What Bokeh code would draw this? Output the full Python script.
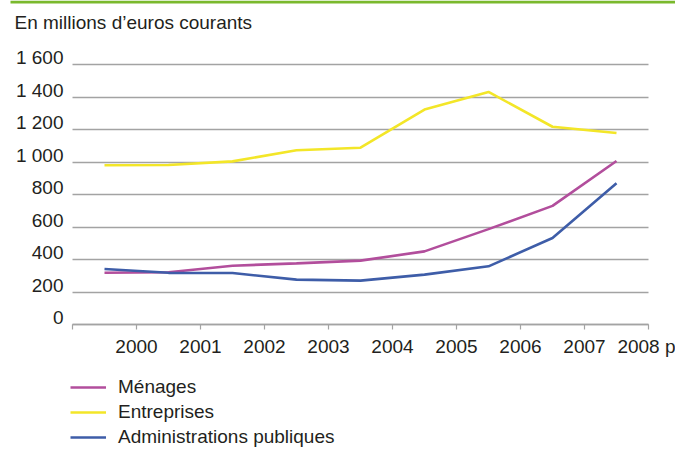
from bokeh.plotting import figure
from bokeh.models import Range1d, FixedTicker, Legend, LegendItem, Label, BoxAnnotation
from bokeh.embed import file_html
from bokeh.resources import INLINE

# ---- data ----
years = ["2000", "2001", "2002", "2003", "2004", "2005", "2006", "2007", "2008 p"]
menages = [318, 322, 362, 376, 393, 450, 587, 730, 1006]
entreprises = [980, 982, 1004, 1072, 1088, 1323, 1431, 1217, 1178]
administrations = [342, 318, 317, 276, 270, 307, 358, 532, 869]
series_names = ["Ménages", "Entreprises", "Administrations publiques"]
y_ticks = [0, 200, 400, 600, 800, 1000, 1200, 1400, 1600]
y_tick_labels = ["0", "200", "400", "600", "800", "1 000", "1 200", "1 400", "1 600"]
unit_title = "En millions d’euros courants"

FONT = "Liberation Sans"
TXT = "#231f20"
GRID = "#a3a3a3"

W, H = 675, 449
# plot area geometry (pixels inside the canvas)
FL, FR, FT, FB = 72, 648, 64, 324
n = len(years)
xppu = (FR - FL) / n            # px per x unit
yppu = (FB - FT) / 1600         # px per y unit

xs = [i + 0.5 for i in range(n)]
x_ticks = list(range(n + 1))

p = figure(width=W, height=H, output_backend="svg", toolbar_location=None,
           x_range=Range1d(-FL / xppu, (W - FL) / xppu),
           y_range=Range1d(-(H - FB) / yppu, FB / yppu),
           min_border_left=0, min_border_right=0, min_border_top=0, min_border_bottom=0)
p.outline_line_color = None
p.background_fill_color = "white"
p.border_fill_color = "white"

p.xgrid.visible = False
p.ygrid.ticker = FixedTicker(ticks=y_ticks)
p.ygrid.grid_line_color = GRID
p.ygrid.grid_line_width = 1.5
p.ygrid.cross_bounds = (0, n)

# x axis, at y = 0
p.xaxis.fixed_location = 0
p.xaxis.bounds = (0, n)
p.xaxis.ticker = FixedTicker(ticks=x_ticks)
p.xaxis.major_label_overrides = {0: ""} | {i + 1: y for i, y in enumerate(years)}
p.xaxis.axis_line_color = GRID
p.xaxis.axis_line_width = 1.5
p.xaxis.major_tick_line_color = GRID
p.xaxis.major_tick_line_width = 1.2
p.xaxis.major_tick_in = 0
p.xaxis.major_tick_out = 5
p.xaxis.minor_tick_line_color = None
p.xaxis.major_label_standoff = 6
p.xaxis.major_label_text_font = FONT
p.xaxis.major_label_text_font_size = "19px"
p.xaxis.major_label_text_color = TXT

# y axis, at x = 0; labels sit on their grid line
lab_shift = 7 / yppu
p.yaxis.fixed_location = 0
p.yaxis.ticker = FixedTicker(ticks=[v + lab_shift for v in y_ticks])
p.yaxis.major_label_overrides = {v + lab_shift: s for v, s in zip(y_ticks, y_tick_labels)}
p.yaxis.axis_line_color = None
p.yaxis.major_tick_line_color = None
p.yaxis.minor_tick_line_color = None
p.yaxis.major_tick_in = 0
p.yaxis.major_tick_out = 0
p.yaxis.major_label_standoff = 9
p.yaxis.major_label_text_font = FONT
p.yaxis.major_label_text_font_size = "19px"
p.yaxis.major_label_text_color = TXT

colors = ["#b24e9c", "#f3e628", "#3e5da8"]
renderers = []
for vals, c in zip([menages, entreprises, administrations], colors):
    renderers.append(p.line(xs, vals, line_color=c, line_width=2.6))

legend = Legend(items=[LegendItem(label=nm, renderers=[r]) for nm, r in zip(series_names, renderers)],
                location=(70, 1), orientation="vertical",
                padding=0, margin=0, spacing=3,
                glyph_width=36, glyph_height=20, label_height=20,
                label_standoff=12, label_text_font=FONT, label_text_font_size="19px",
                label_text_color=TXT, background_fill_alpha=0, border_line_color=None)
p.add_layout(legend, "center")

title = Label(x=(14 - FL) / xppu, y=(FB - 22) / yppu, text=unit_title, text_font=FONT,
              text_font_size="19px", text_color=TXT, text_baseline="middle",
              text_align="left")
p.add_layout(title)

bar = BoxAnnotation(left=(10 - FL) / xppu, bottom=(FB - 3) / yppu, fill_color="#7ab92d",
                    fill_alpha=1, line_color=None)
p.add_layout(bar)

open("out.html", "w").write(file_html(p, INLINE))
